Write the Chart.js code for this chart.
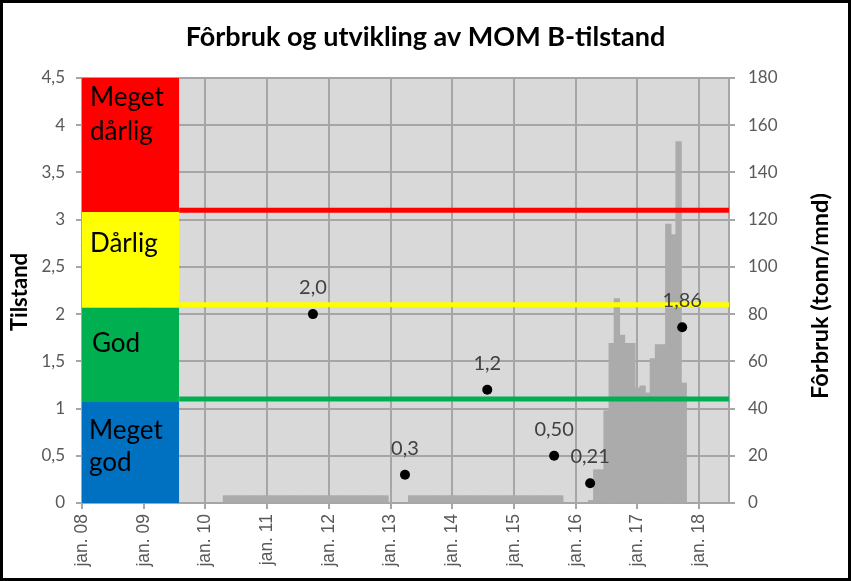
<!DOCTYPE html>
<html><head><meta charset="utf-8">
<script src="https://cdn.jsdelivr.net/npm/chart.js@4.4.1/dist/chart.umd.min.js"></script>
<style>html,body{margin:0;padding:0;background:#fff}#wrap{width:851px;height:581px;position:relative}</style>
</head><body><div id="wrap"><canvas id="c" width="851" height="581"></canvas></div>
<script>
// ---- data ----
const xTickMonths = [0, 12, 24, 36, 48, 60, 72, 84, 96, 108, 120];
const xTickLabels = ['jan. 08','jan. 09','jan. 10','jan. 11','jan. 12','jan. 13','jan. 14','jan. 15','jan. 16','jan. 17','jan. 18'];
const leftTicks = ['0','0,5','1','1,5','2','2,5','3','3,5','4','4,5'];

// monthly feed use (months since jan. 08), tonn/mnd
const feedMonths = [
  28,29,30,31,32,33,34,35,36,37,38,39,40,41,42,43,44,45,46,47,48,49,50,51,52,53,54,55,56,57,58,59,
  64,65,66,67,68,69,70,71,72,73,74,75,76,77,78,79,80,81,82,83,84,85,86,87,88,89,90,91,92,93,
  99,100,101,102,103,104,105,106,107,108,109,110,111,112,113,114,115,116,117
];
const feedValues = [
  3,3,3,3,3,3,3,3,3,3,3,3,3,3,3,3,3,3,3,3,3,3,3,3,3,3,3,3,3,3,3,3,
  3,3,3,3,3,3,3,3,3,3,3,3,3,3,3,3,3,3,3,3,3,3,3,3,3,3,3,3,3,3,
  1,14,14,39,67.5,86.5,71,67.5,67.5,48.6,49.5,46.5,61,67,67,118,113.6,153,50.7
];

// MOM B samples
const pointMonths = [44.9, 62.8, 78.8, 91.8, 98.8, 116.7];
const pointValues = [2.0, 0.3, 1.2, 0.5, 0.21, 1.86];
const pointLabels = ['2,0', '0,3', '1,2', '0,50', '0,21', '1,86'];

// condition zones
const zoneNames = [['Meget','dårlig'], ['Dårlig'], ['God'], ['Meget','god']];
const zoneTops = [4.5, 3.08, 2.07, 1.07];
const zoneBottoms = [3.08, 2.07, 1.07, 0];
const zoneColors = ['#ff0000', '#ffff00', '#00b050', '#0070c0'];
const zoneStart = 0, zoneEnd = 18.9, axisEnd = 125.8;
const limitValues = [3.1, 2.1, 1.1];
const limitColors = ['#ff0000', '#ffff00', '#00b050'];

const FONT = 'Lato';
const datasets = [];
datasets.push({
  type: 'line', label: 'MOM B', yAxisID: 'y', order: 0,
  data: pointMonths.map((m, i) => ({x: m, y: pointValues[i]})),
  showLine: false, pointRadius: 5, pointBackgroundColor: '#000', pointBorderWidth: 0
});
limitValues.forEach((v, i) => datasets.push({
  type: 'line', yAxisID: 'y', order: 1,
  data: [{x: zoneEnd, y: v}, {x: axisEnd, y: v}],
  borderColor: limitColors[i], borderWidth: 5, pointRadius: 0, fill: false
}));
zoneTops.forEach((t, i) => datasets.push({
  type: 'line', yAxisID: 'y', order: 2,
  data: [{x: zoneStart, y: t}, {x: zoneEnd, y: t}],
  borderWidth: 0, borderColor: 'rgba(0,0,0,0)', pointRadius: 0,
  backgroundColor: zoneColors[i], fill: {value: zoneBottoms[i]}
}));
datasets.push({
  type: 'bar', yAxisID: 'y2', order: 3,
  data: feedMonths.map((m, i) => ({x: m, y: feedValues[i]})),
  backgroundColor: '#ababab', borderWidth: 0, inflateAmount: 0.6,
  barPercentage: 1.0, categoryPercentage: 1.0
});

const bgPlugin = {
  id: 'plotbg',
  beforeDraw(chart) {
    const {ctx, chartArea: a} = chart;
    ctx.save();
    ctx.fillStyle = '#fff';
    ctx.fillRect(0, 0, chart.width, chart.height);
    ctx.fillStyle = '#d9d9d9';
    ctx.fillRect(a.left, a.top, a.right - a.left, a.bottom - a.top);
    ctx.restore();
  }
};

const textPlugin = {
  id: 'texts',
  afterDraw(chart) {
    const ctx = chart.ctx, xs = chart.scales.x, ys = chart.scales.y;
    ctx.save();
    // zone names
    ctx.fillStyle = '#000';
    ctx.font = '26px ' + FONT;
    ctx.textAlign = 'left'; ctx.textBaseline = 'alphabetic';
    const offs = [[28, 62], [40], [44], [37, 69]];
    const xoffs = [8, 8, 10, 7];
    zoneNames.forEach((lines, i) => {
      const top = ys.getPixelForValue(zoneTops[i]);
      lines.forEach((t, j) => ctx.fillText(t, xs.getPixelForValue(zoneStart) + xoffs[i], top + offs[i][j]));
    });
    // point labels
    ctx.fillStyle = '#404040';
    ctx.font = '20px ' + FONT;
    ctx.textAlign = 'center';
    pointMonths.forEach((m, i) => {
      ctx.fillText(pointLabels[i], xs.getPixelForValue(m), ys.getPixelForValue(pointValues[i]) - 20);
    });
    // title
    ctx.fillStyle = '#000';
    ctx.font = 'bold 27px ' + FONT;
    ctx.fillText('Fôrbruk og utvikling av MOM B-tilstand', 425.5, 46);
    // axis titles
    ctx.textBaseline = 'middle';
    ctx.font = 'bold 22px ' + FONT;
    ctx.save(); ctx.translate(20, 292); ctx.rotate(-Math.PI / 2); ctx.fillText('Tilstand', 0, 0); ctx.restore();
    ctx.font = 'bold 23.5px ' + FONT;
    ctx.save(); ctx.translate(820, 296); ctx.rotate(-Math.PI / 2); ctx.fillText('Fôrbruk (tonn/mnd)', 0, 0); ctx.restore();
    // outer border
    ctx.strokeStyle = '#000'; ctx.lineWidth = 3;
    ctx.strokeRect(1.5, 1.5, chart.width - 3, chart.height - 3);
    ctx.restore();
  }
};

const GRID = '#a6a6a6';
new Chart(document.getElementById('c'), {
  data: {datasets},
  options: {
    responsive: false, animation: false, devicePixelRatio: 1,
    layout: {padding: {top: 78, left: 0, right: 0, bottom: 0}},
    plugins: {legend: {display: false}, tooltip: {enabled: false}, title: {display: false}},
    scales: {
      x: {
        type: 'linear', min: 0, max: axisEnd, offset: false,
        afterBuildTicks: s => { s.ticks = xTickMonths.map(v => ({value: v})); },
        afterFit: s => { s.height = 78; },
        ticks: {
          autoSkip: false, minRotation: 90, maxRotation: 90, padding: 5,
          color: '#595959', font: {family: 'Liberation Sans', size: 17.5},
          callback: (v) => xTickLabels[xTickMonths.indexOf(v)]
        },
        grid: {color: GRID, lineWidth: 2, tickLength: 6, offset: false},
        border: {color: GRID, width: 2}
      },
      y: {
        type: 'linear', position: 'left', min: 0, max: 4.5,
        afterBuildTicks: s => { s.ticks = leftTicks.map((t, i) => ({value: i * 0.5})); },
        afterFit: s => { s.width = 82; },
        ticks: {
          padding: 11, color: '#595959', font: {family: FONT, size: 17},
          callback: (v, i) => leftTicks[i]
        },
        grid: {color: GRID, lineWidth: 2, tickLength: 6},
        border: {color: GRID, width: 2}
      },
      y2: {
        type: 'linear', position: 'right', min: 0, max: 180,
        ticks: {stepSize: 20, padding: 13, color: '#595959', font: {family: FONT, size: 17}},
        afterFit: s => { s.width = 122; },
        grid: {drawOnChartArea: false, color: GRID, lineWidth: 2, tickLength: 6},
        border: {color: GRID, width: 2}
      }
    }
  },
  plugins: [bgPlugin, textPlugin]
});
</script>
</body></html>
